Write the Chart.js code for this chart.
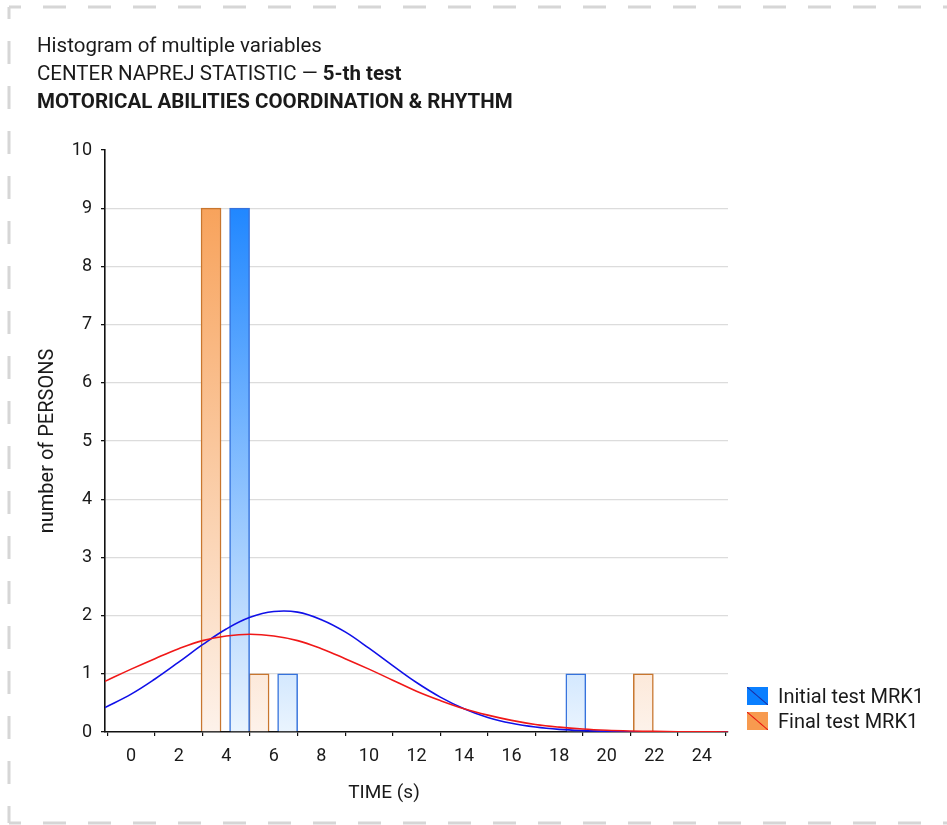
<!DOCTYPE html>
<html>
<head>
<meta charset="utf-8">
<script src="https://cdn.jsdelivr.net/npm/chart.js@4.4.1/dist/chart.umd.min.js"></script>
<style>
  html, body { margin: 0; padding: 0; background: #fff; }
  #wrap { position: relative; width: 947px; height: 825px; overflow: hidden; font-family: Roboto, "Noto Sans", sans-serif; color: #1a1a1a; }
  #c { position: absolute; left: 0; top: 0; }
  .t { position: absolute; left: 37px; font-size: 20.5px; line-height: 28px; white-space: nowrap; }
  .lg { position: absolute; left: 747px; font-size: 20px; white-space: nowrap; display: flex; align-items: center; }
  .sw { width: 21px; height: 18px; margin-right: 10px; box-sizing: border-box; }
  #xt { position: absolute; top: 780px; left: 334px; width: 100px; text-align: center; font-size: 19px; }
</style>
</head>
<body>
<div id="wrap">
  <svg width="947" height="825" style="position:absolute;left:0;top:0">
    <g stroke="#d6d6d6" stroke-width="3" stroke-dasharray="23 22" stroke-dashoffset="11" fill="none">
      <line x1="9" y1="7" x2="960" y2="7"/>
      <line x1="9" y1="7" x2="9" y2="823"/>
      <line x1="9" y1="823" x2="960" y2="823"/>
    </g>
  </svg>
  <canvas id="c" width="947" height="825"></canvas>
  <div class="t" style="top:31px">Histogram of multiple variables</div>
  <div class="t" style="top:59px">CENTER NAPREJ STATISTIC — <b>5-th test</b></div>
  <div class="t" style="top:87px"><b>MOTORICAL ABILITIES COORDINATION &amp; RHYTHM</b></div>
  <div class="lg" style="top:684px"><div class="sw" style="background:linear-gradient(to top right, transparent calc(50% - 1px), #1c2aa0 50%, transparent calc(50% + 1px)), #0a7fff;"></div>Initial test MRK1</div>
  <div class="lg" style="top:709px"><div class="sw" style="background:linear-gradient(to top right, transparent calc(50% - 1px), #e81010 50%, transparent calc(50% + 1px)), #f79a4f;"></div>Final test MRK1</div>
  <div id="xt">TIME (s)</div>
</div>
<script>
// ---- data ----
const seriesNames = ['Initial test MRK1', 'Final test MRK1'];
const initialBinX = [4.56, 6.58, 18.70];
const initialCounts = [9, 1, 1];
const finalBinX = [3.36, 5.38, 21.54];
const finalCounts = [9, 1, 1];
const curveX = [-1.1, 0, 1, 2, 3, 4, 5, 6, 7, 8, 9, 10, 11, 12, 13, 14, 15, 16, 17, 18, 19, 20, 21, 22, 23, 24, 25.1];
const initialCurve = [0.42, 0.65, 0.91, 1.20, 1.50, 1.77, 1.97, 2.07, 2.06, 1.93, 1.72, 1.44, 1.14, 0.85, 0.60, 0.40, 0.25, 0.15, 0.085, 0.045, 0.023, 0.011, 0.005, 0.002, 0.001, 0, 0];
const finalCurve = [0.87, 1.08, 1.26, 1.43, 1.57, 1.65, 1.68, 1.65, 1.57, 1.43, 1.26, 1.08, 0.89, 0.70, 0.54, 0.40, 0.29, 0.20, 0.13, 0.084, 0.052, 0.031, 0.018, 0.010, 0.005, 0.003, 0.001];
const xTicks = [0, 2, 4, 6, 8, 10, 12, 14, 16, 18, 20, 22, 24];
const yTicks = [0, 1, 2, 3, 4, 5, 6, 7, 8, 9, 10];

const pts = (xs, ys) => xs.map((x, i) => ({ x: x, y: ys[i] }));

function grad(ctx, top, bottom) {
  const ch = ctx.chart;
  const a = ch.chartArea;
  if (!a) return top;
  const g = ch.ctx.createLinearGradient(0, a.top, 0, a.bottom);
  g.addColorStop(0, top);
  g.addColorStop(1, bottom);
  return g;
}

const font = { family: 'Roboto, "Noto Sans", sans-serif', size: 18 };
const titleFont = { family: 'Roboto, "Noto Sans", sans-serif', size: 20 };

new Chart(document.getElementById('c'), {
  type: 'bar',
  data: {
    datasets: [
      {
        type: 'line', label: 'curve final', data: pts(curveX, finalCurve),
        borderColor: '#f01818', borderWidth: 1.6, pointRadius: 0, fill: false,
        tension: 0.4, order: 0
      },
      {
        type: 'line', label: 'curve initial', data: pts(curveX, initialCurve),
        borderColor: '#1010e8', borderWidth: 1.6, pointRadius: 0, fill: false,
        tension: 0.4, order: 1
      },
      {
        label: seriesNames[0], data: pts(initialBinX, initialCounts),
        backgroundColor: ctx => grad(ctx, '#0a7bff', '#eaf4fe'),
        borderColor: '#3572dc', borderWidth: 1.5, barThickness: 20, grouped: false, order: 2
      },
      {
        label: seriesNames[1], data: pts(finalBinX, finalCounts),
        backgroundColor: ctx => grad(ctx, '#f79a4c', '#fdf2ea'),
        borderColor: '#c8762e', borderWidth: 1.5, barThickness: 20, grouped: false, order: 2
      }
    ]
  },
  options: {
    responsive: false,
    animation: false,
    devicePixelRatio: 1,
    layout: { padding: { top: 150, right: 219, left: 0, bottom: 0 } },
    plugins: { legend: { display: false }, tooltip: { enabled: false }, title: { display: false } },
    scales: {
      x: {
        type: 'linear', min: -1.1, max: 25.1, offset: false,
        afterBuildTicks: s => { s.ticks = xTicks.map(v => ({ value: v })); },
        afterFit: s => { s.height = 93; },
        grid: { drawOnChartArea: false, tickLength: 4, tickColor: '#111', lineWidth: 1.2 },
        border: { color: '#111', width: 1.6 },
        ticks: { font: font, color: '#1a1a1a', padding: 10, maxRotation: 0, autoSkip: false }
      },
      y: {
        min: 0, max: 10,
        afterBuildTicks: s => { s.ticks = yTicks.map(v => ({ value: v })); },
        afterFit: s => { s.width = 105; },
        grid: {
          color: c => (c.tick && (c.tick.value === 0 || c.tick.value === 10)) ? 'rgba(0,0,0,0)' : '#dcdcdc',
          lineWidth: 1.3, tickLength: 4, tickColor: '#111'
        },
        border: { color: '#111', width: 1.6 },
        ticks: { font: font, color: '#1a1a1a', padding: 9 },
        title: { display: true, text: 'number of PERSONS', font: titleFont, color: '#1a1a1a', padding: { top: 36, bottom: 0 } }
      }
    }
  }
});
</script>
</body>
</html>
